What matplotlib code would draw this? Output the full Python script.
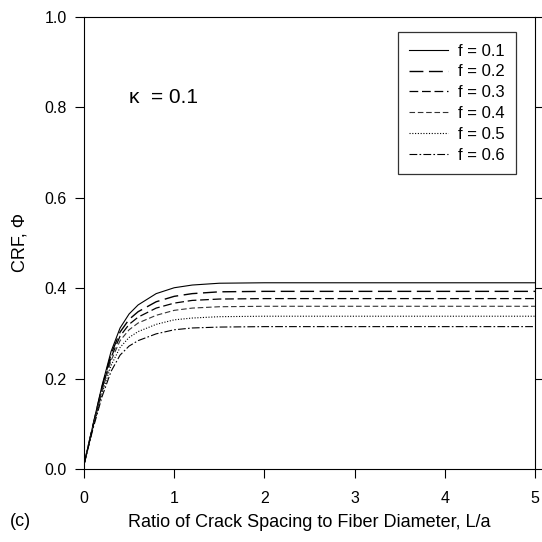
import matplotlib
matplotlib.use("Agg")
import matplotlib.pyplot as plt

plt.rcParams['font.family'] = ['Liberation Sans', 'DejaVu Sans']

# Data
x_ratio = [0.0, 0.1, 0.2, 0.3, 0.4, 0.5, 0.6, 0.8, 1.0, 1.2, 1.5, 2.0, 3.0, 5.0]
crf_f01 = [0.01, 0.098, 0.185, 0.260, 0.312, 0.343, 0.363, 0.388, 0.401, 0.407, 0.411, 0.412, 0.412, 0.412]
crf_f02 = [0.01, 0.097, 0.181, 0.254, 0.303, 0.331, 0.348, 0.370, 0.382, 0.388, 0.392, 0.393, 0.393, 0.393]
crf_f03 = [0.01, 0.095, 0.177, 0.247, 0.294, 0.320, 0.336, 0.356, 0.367, 0.373, 0.376, 0.377, 0.377, 0.377]
crf_f04 = [0.01, 0.094, 0.173, 0.240, 0.284, 0.308, 0.323, 0.340, 0.351, 0.356, 0.359, 0.360, 0.360, 0.360]
crf_f05 = [0.01, 0.092, 0.167, 0.229, 0.269, 0.291, 0.304, 0.320, 0.330, 0.334, 0.337, 0.338, 0.338, 0.338]
crf_f06 = [0.01, 0.089, 0.160, 0.216, 0.252, 0.272, 0.284, 0.299, 0.308, 0.312, 0.314, 0.315, 0.315, 0.315]
labels = ['f = 0.1', 'f = 0.2', 'f = 0.3', 'f = 0.4', 'f = 0.5', 'f = 0.6']
series = [crf_f01, crf_f02, crf_f03, crf_f04, crf_f05, crf_f06]
x_ticks = [0, 1, 2, 3, 4, 5]
y_ticks = [0.0, 0.2, 0.4, 0.6, 0.8, 1.0]

styles = [
    dict(linestyle='-', linewidth=0.8, color='black'),
    dict(linestyle=(0, (10, 4)), linewidth=1.0, color='black'),
    dict(linestyle=(0, (7, 3)), linewidth=0.9, color='black'),
    dict(linestyle=(0, (5, 2.5)), linewidth=0.8, color='#333333'),
    dict(linestyle=(0, (1, 1.5)), linewidth=0.8, color='black'),
    dict(linestyle=(0, (7, 2, 1.5, 2)), linewidth=0.8, color='black'),
]

fig = plt.figure(figsize=(5.42, 5.42), dpi=100)
ax = fig.add_axes([84/542, 1 - 469/542, (535-84)/542, (469-17)/542])

for ys, lab, st in zip(series, labels, styles):
    ax.plot(x_ratio, ys, label=lab, **st)

ax.set_xlim(0, 5)
ax.set_ylim(0, 1)
ax.set_xticks(x_ticks)
ax.set_xticklabels([str(t) for t in x_ticks])
ax.set_yticks(y_ticks)
ax.set_yticklabels([f"{t:.1f}" for t in y_ticks])
ax.tick_params(axis='both', direction='out', length=6.5, width=0.8, labelsize=11.5)
ax.tick_params(axis='x', pad=9)
ax.tick_params(axis='y', pad=6, right=True, labelright=False)
for s in ax.spines.values():
    s.set_linewidth(0.8)

ax.set_xlabel('Ratio of Crack Spacing to Fiber Diameter, L/a', fontsize=13, labelpad=6)
ax.set_ylabel('CRF, \u03a6', fontsize=13, labelpad=11)

ax.text(0.5, 0.80, '\u03ba  = 0.1', fontsize=15, ha='left', va='bottom')
fig.text(10/542, 1 - 521/542, '(c)', fontsize=13, ha='left', va='center')

leg = ax.legend(loc='upper right', bbox_to_anchor=(0.958, 0.967), borderaxespad=0,
                fontsize=12, frameon=True, fancybox=False, edgecolor='black',
                handlelength=2.3, labelspacing=0.35, borderpad=0.7, handletextpad=0.6)
leg.get_frame().set_linewidth(0.9)

fig.savefig('out.png', dpi=100)
